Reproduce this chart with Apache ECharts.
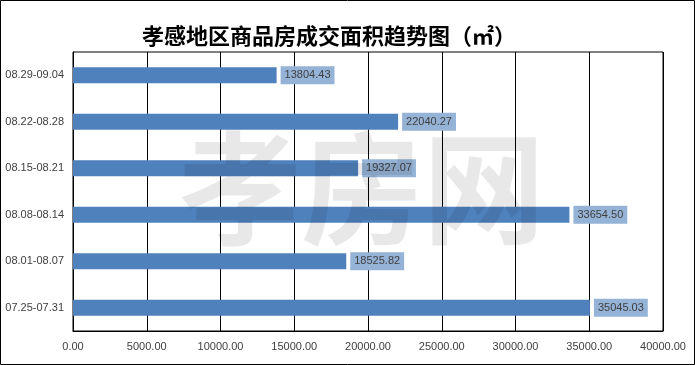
<!DOCTYPE html>
<html><head><meta charset="utf-8">
<script src="https://cdn.jsdelivr.net/npm/echarts@6/dist/echarts.min.js"></script>
<style>html,body{margin:0;padding:0;background:#fff}#c{width:695px;height:365px}</style>
</head><body><div id="c"></div>
<script>
const categories = ['07.25-07.31','08.01-08.07','08.08-08.14','08.15-08.21','08.22-08.28','08.29-09.04'];
const areaValues = [35045.03, 18525.82, 33654.50, 19327.07, 22040.27, 13804.43];
const titleText = '孝感地区商品房成交面积趋势图（㎡）';
const watermark = '孝房网';

const chart = echarts.init(document.getElementById('c'), null, {renderer:'canvas'});
chart.setOption({
  animation: false,
  backgroundColor: '#fff',
  title: {
    text: titleText, left: 324, top: 20, textAlign: 'center',
    textStyle: {fontFamily: 'Noto Sans CJK SC', fontSize: 22, fontWeight: 'bold', color: '#000'}
  },
  grid: {left: 73, right: 32, top: 52, bottom: 34, show: true, borderColor: '#000', borderWidth: 1},
  xAxis: {
    type: 'value', min: 0, max: 40000, interval: 5000,
    axisLine: {show: true, lineStyle: {color: '#000'}},
    axisTick: {show: false},
    splitLine: {show: true, lineStyle: {color: '#000', width: 1}},
    axisLabel: {formatter: v => v.toFixed(2), color: '#404040', fontFamily: 'Liberation Sans', fontSize: 11, margin: 10}
  },
  yAxis: {
    type: 'category', data: categories,
    axisLine: {show: true, lineStyle: {color: '#000'}},
    axisTick: {show: false},
    axisLabel: {color: '#404040', fontFamily: 'Liberation Sans', fontSize: 11, margin: 9}
  },
  series: [{
    type: 'bar', data: areaValues, barWidth: 16,
    itemStyle: {color: '#4F81BD'},
    label: {
      show: true, position: 'right', distance: 4,
      formatter: p => p.value.toFixed(2),
      backgroundColor: '#95B3D7', padding: [4, 4, 3, 4],
      color: '#404040', fontFamily: 'Liberation Sans', fontSize: 11
    }
  }],
  graphic: [
    {type: 'rect', z: 100, shape: {x: 0.5, y: 0.5, width: 694, height: 364}, style: {fill: 'none', stroke: '#000', lineWidth: 1}},
    {type: 'text', z: 100, x: 362, y: 188, style: {text: watermark, fontSize: 122, fontWeight: 'bold', fontFamily: 'Noto Sans CJK SC', fill: 'rgba(0,0,0,0.09)', align: 'center', verticalAlign: 'middle'}}
  ]
});
</script></body></html>
